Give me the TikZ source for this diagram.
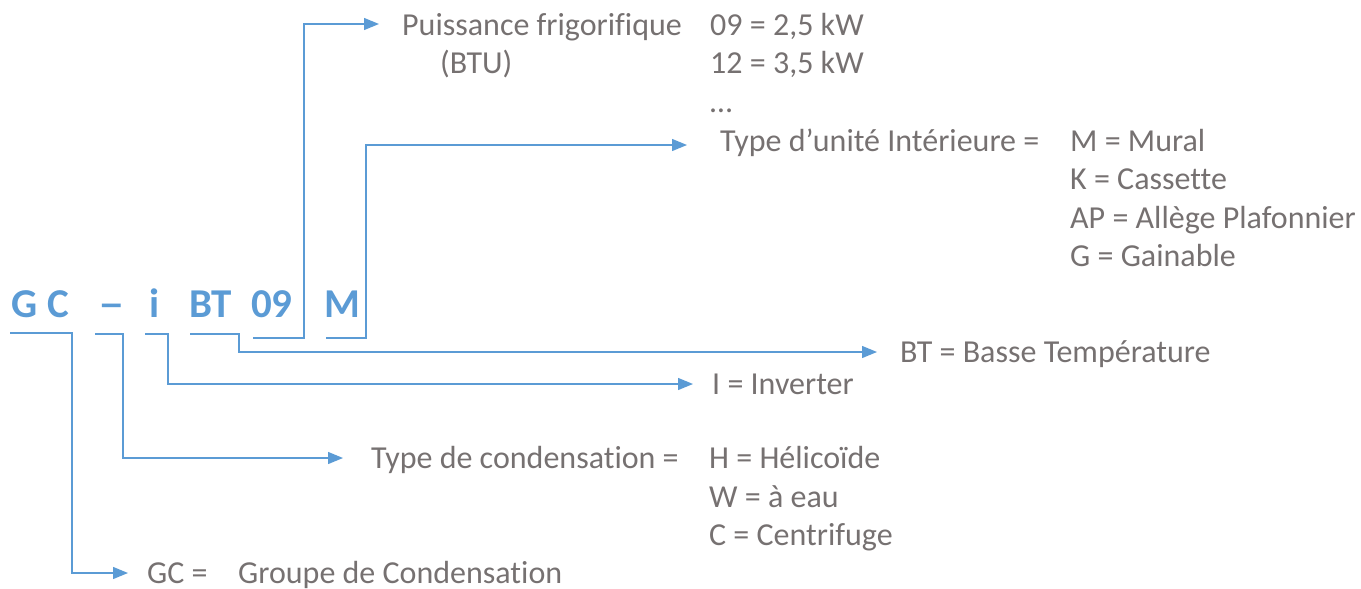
\documentclass[tikz,border=0pt]{standalone}
\usepackage{fontspec}
\setmainfont{Carlito}[Ligatures=NoCommon]
\usetikzlibrary{arrows.meta,positioning}
\definecolor{codeblue}{HTML}{5B9BD5}
\definecolor{txtgray}{HTML}{767171}

\begin{document}
\begin{tikzpicture}[x=1pt, y=-1pt,
    code/.style={anchor=base west, inner sep=0pt, text=codeblue, font=\fontsize{41}{49}\selectfont\bfseries},
    lbl/.style={anchor=base west, inner sep=0pt, text=txtgray, font=\fontsize{32}{39}\selectfont},
    conn/.style={draw=codeblue, line width=1.3pt, -{Triangle[length=15pt,width=12pt]}}]

    \useasboundingbox (0,0) rectangle (1361,589);

    % Reference code
    \node[code] (g) at (11,317) {G};
    \node[code] (c) at (47,317) {C};
    \node[code] (dash) at (98,317) {\scalebox{1.3}[1]{--}};
    \node[code] (i) at (149,317) {i};
    \node[code] (bt) at (189,317) {BT};
    \node[code] (nn) at (251,317) {09};
    \node[code] (m) at (324,317) {M};

    % Underline starts
    \coordinate (ugc) at (10,333);
    \coordinate (udash) at (95,334);
    \coordinate (ui) at (145,334);
    \coordinate (ubt) at (190,334);
    \coordinate (unn) at (253,338);
    \coordinate (um) at (326,338);

    % Labels
    \node[lbl] (puis) at (402,35) {Puissance frigorifique};
    \node[lbl] (btu) at (440,73) {(BTU)};
    \node[lbl] (p09) at (710,35) {09 = 2,5 kW};
    \node[lbl] (p12) at (710,73) {12 = 3,5 kW};
    \node[lbl] (pdots) at (710,112) {…};

    \node[lbl] (unite) at (720,151) {Type d’unité Intérieure =};
    \node[lbl] (umur) at (1070,151) {M = Mural};
    \node[lbl] (ucas) at (1070,189) {K = Cassette};
    \node[lbl] (uap) at (1070,228) {AP = Allège Plafonnier};
    \node[lbl] (ugai) at (1070,266) {G = Gainable};

    \node[lbl] (btlbl) at (900,362) {BT = Basse Température};
    \node[lbl] (inv) at (712,394) {I = Inverter};

    \node[lbl] (cond) at (371,468) {Type de condensation =};
    \node[lbl] (chel) at (709,468) {H = Hélicoïde};
    \node[lbl] (ceau) at (709,507) {W = à eau};
    \node[lbl] (ccen) at (709,545) {C = Centrifuge};

    \node[lbl] (gclbl) at (147,583) {GC =};
    \node[lbl] (gcdef) at (238,583) {Groupe de Condensation};

    % Connectors
    \draw[conn] (ugc) -- ++(62,0) |- ([xshift=-19pt,yshift=10pt]gclbl.base west);
    \draw[conn] (udash) -- ++(28,0) |- ([xshift=-28pt,yshift=10pt]cond.base west);
    \draw[conn] (ui) -- ++(23,0) |- ([xshift=-19pt,yshift=10pt]inv.base west);
    \draw[conn] (ubt) -- ++(49,0) |- ([xshift=-23pt,yshift=10pt]btlbl.base west);
    \draw[conn] (unn) -- ++(51,0) |- ([xshift=-23pt,yshift=11pt]puis.base west);
    \draw[conn] (um) -- ++(40,0) |- ([xshift=-33pt,yshift=6pt]unite.base west);
\end{tikzpicture}
\end{document}
